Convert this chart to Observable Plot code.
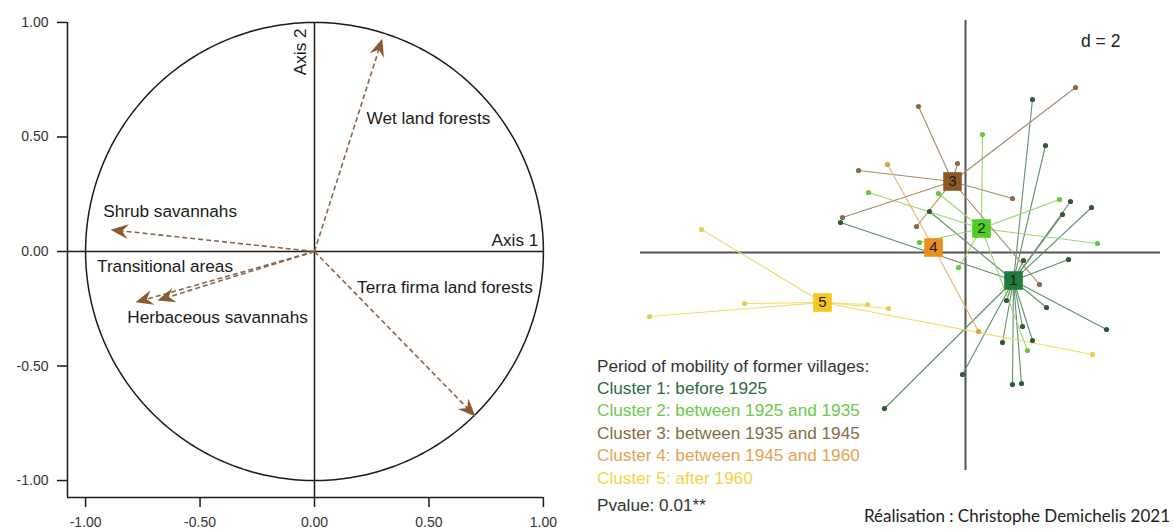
<!DOCTYPE html>
<html><head><meta charset="utf-8">
<script src="https://cdn.jsdelivr.net/npm/d3@7"></script>
<script src="https://cdn.jsdelivr.net/npm/@observablehq/plot@0.6"></script>
<style>
body{margin:0;background:#fff;width:1175px;height:531px;overflow:hidden;position:relative;font-family:"Liberation Sans",Arial,sans-serif;}
#left{position:absolute;left:0;top:0;}
#right{position:absolute;left:580px;top:0;}
.t{position:absolute;white-space:nowrap;font-size:17.2px;line-height:20px;}
#caption{position:absolute;right:5px;top:506px;font-family:Lato,"Open Sans",sans-serif;font-size:17px;line-height:20px;color:#222;white-space:nowrap;}
</style></head><body>
<div id="left"></div><div id="right"></div>
<div id="legend"></div>
<div class="t" id="dlabel" style="left:1081px;top:31px;color:#222;font-size:17.5px;">d = 2</div>
<div id="caption">Réalisation : Christophe Demichelis 2021</div>
<script>
// ---------- Left panel: correlation circle ----------
const tickVals = [-1, -0.5, 0, 0.5, 1];
const varNames = ["Wet land forests", "Shrub savannahs", "Transitional areas", "Herbaceous savannahs", "Terra firma land forests"];
const varAxis1 = [0.296, -0.891, -0.686, -0.782, 0.703];
const varAxis2 = [0.929, 0.095, -0.214, -0.222, -0.720];
// label anchor positions (left-aligned) in axis units
const labelAxis1 = [0.227, -0.923, -0.950, -0.818, 0.186];
const labelAxis2 = [0.581, 0.176, -0.066, -0.290, -0.156];

// ---------- Right panel: cluster plot ----------
const clusterIds = [1, 2, 3, 4, 5];
const centerX = [0.96, 0.32, -0.26, -0.64, -2.86];
const centerY = [-0.56, 0.48, 1.42, 0.10, -1.00];
const pointCluster = [
  1,1,1,1,1,1,1,1,1,1,1,1,1,1,1,1,1,1,1,
  2,2,2,2,2,2,2,2,
  3,3,3,3,3,3,3,3,
  4,4,
  5,5,5,5,5,5
];
const pointX = [
  1.34,1.60,2.10,-0.72,1.94,2.52,1.16,2.06,0.82,1.62,1.14,2.82,0.74,1.34,-0.06,0.94,1.12,-1.62,-2.50,
  0.34,-0.54,1.88,-0.92,2.64,-0.14,1.24,-1.94,
  2.20,-0.94,-0.16,0.94,-2.14,-2.46,-0.98,1.48,
  -1.56,0.26,
  -5.28,-4.42,-6.32,-1.96,-1.54,2.54
];
const pointY = [
  3.06,2.14,1.02,0.82,0.76,0.90,-0.16,-0.14,-0.96,-1.10,-1.48,-1.54,-1.80,-1.76,-2.44,-2.64,-2.62,-3.12,0.60,
  2.36,1.18,1.06,0.20,0.18,-0.30,-1.96,1.20,
  3.30,2.92,1.78,1.08,1.64,0.70,0.52,-0.64,
  1.76,-1.58,
  0.46,-1.02,-1.28,-1.04,-1.12,-2.04
];
const legendTitle = "Period of mobility of former villages:";
const legendLabels = ["Cluster 1: before 1925", "Cluster 2: between 1925 and 1935", "Cluster 3: between 1935 and 1945", "Cluster 4: between 1945 and 1960", "Cluster 5: after 1960"];
const pvalueText = "Pvalue: 0.01**";

// styles
const squareColors = ["#247a3a", "#4ccf22", "#8b5a24", "#e98f1e", "#f7c71e"];
const lineColors = ["#5f8f6a", "#98d66c", "#a68a6a", "#e8b070", "#f2da6e"];
const dotColors = ["#2f5a3a", "#64c83a", "#8b6a48", "#e0a048", "#e6cf4e"];
const legendColors = ["#2f6b3c", "#6ec84a", "#8b6a43", "#e3a154", "#f1d44a"];

const FONT = '"Liberation Sans", Arial, sans-serif';

const vars = varNames.map((n, i) => ({name: n, x: varAxis1[i], y: varAxis2[i], lx: labelAxis1[i], ly: labelAxis2[i]}));
// unit circle (geometric reference shape)
const circle = d3.range(0, 361, 1).map(a => ({x: Math.cos(a * Math.PI / 180), y: Math.sin(a * Math.PI / 180)}));

const xLo = -1.079, yLo = -1.074;
// notched arrowhead symbol: tip at origin, pointing up
const arrowHead = {
  draw(ctx, size) {
    const s = Math.sqrt(size);
    ctx.moveTo(0, 0);
    ctx.lineTo(s * 0.42, s * 1.0);
    ctx.lineTo(0, s * 0.66);
    ctx.lineTo(-s * 0.42, s * 1.0);
    ctx.closePath();
  }
};

const left = Plot.plot({
  width: 580, height: 531,
  marginLeft: 67, marginRight: 19, marginTop: 5, marginBottom: 34,
  x: {domain: [xLo, -xLo]},
  y: {domain: [yLo, -yLo]},
  style: {fontFamily: FONT, color: "#1a1a1a", background: "transparent", overflow: "visible"},
  marks: [
    Plot.axisX({ticks: tickVals, tickFormat: d => d.toFixed(2), tickSize: 10, tickPadding: 10, fontSize: 14, label: null, strokeWidth: 1.5, fill: "#333"}),
    Plot.axisY({ticks: tickVals, tickFormat: d => d.toFixed(2), tickSize: 10, tickPadding: 9, fontSize: 14, label: null, strokeWidth: 1.5, fill: "#333"}),
    Plot.ruleY([yLo], {x1: xLo, x2: 1, strokeWidth: 1.5}),
    Plot.ruleX([xLo], {y1: yLo, y2: 1, strokeWidth: 1.5}),
    Plot.ruleY([0], {x1: xLo, x2: 1, strokeWidth: 1.5}),
    Plot.ruleX([0], {y1: yLo, y2: 1, strokeWidth: 1.5}),
    Plot.line(circle, {x: "x", y: "y", strokeWidth: 1.5}),
    Plot.link(vars, {x1: 0, y1: 0, x2: d => d.x * 0.97, y2: d => d.y * 0.97, stroke: "#8a6548", strokeDasharray: "5,3", strokeWidth: 1.6}),
    Plot.dot(vars, {x: "x", y: "y", symbol: arrowHead, r: 10, fill: "#8b5a2e", stroke: "none", rotate: d => Math.atan2(d.x, d.y) * 180 / Math.PI}),
    Plot.text(vars, {x: "lx", y: "ly", text: "name", textAnchor: "start", fontSize: 17.2, fill: "#1a1a1a"}),
    Plot.text(["Axis 1"], {x: 0.978, y: 0.048, textAnchor: "end", fontSize: 17.2, fill: "#1a1a1a"}),
    Plot.text(["Axis 2"], {x: -0.060, y: 0.974, rotate: -90, textAnchor: "end", fontSize: 17.2, fill: "#1a1a1a"})
  ]
});
document.getElementById("left").appendChild(left);

const centers = clusterIds.map((c, i) => ({c: i, label: String(c), x: centerX[i], y: centerY[i]}));
const points = pointCluster.map((c, i) => ({c: c - 1, x: pointX[i], y: pointY[i]}));

const right = Plot.plot({
  width: 595, height: 531,
  marginLeft: 60, marginRight: 15, marginTop: 20, marginBottom: 61,
  x: {domain: [-6.5, 3.9], axis: null},
  y: {domain: [-4.36, 4.64], axis: null},
  color: {type: "identity"},
  style: {fontFamily: FONT, background: "transparent", overflow: "visible"},
  marks: [
    Plot.ruleX([0], {y1: -4.36, y2: 4.64, stroke: "#555", strokeWidth: 2}),
    Plot.ruleY([0], {x1: -6.5, x2: 3.9, stroke: "#555", strokeWidth: 2}),
    Plot.link(points, {x1: d => centerX[d.c], y1: d => centerY[d.c], x2: "x", y2: "y", stroke: d => lineColors[d.c], strokeWidth: 1.1}),
    Plot.dot(points, {x: "x", y: "y", r: 2.6, fill: d => dotColors[d.c], stroke: "none"}),
    Plot.dot(centers, {x: "x", y: "y", symbol: "square", r: 10.5, fill: d => squareColors[d.c], stroke: "none"}),
    Plot.text(centers, {x: "x", y: "y", text: "label", fontSize: 15, fill: "#1a1a1a"})
  ]
});
document.getElementById("right").appendChild(right);

// legend block
const leg = document.getElementById("legend");
const rows = [{t: legendTitle, c: "#333", top: 356}]
  .concat(legendLabels.map((t, i) => ({t, c: legendColors[i], top: 378 + i * 22.4})))
  .concat([{t: pvalueText, c: "#333", top: 495}]);
rows.forEach(r => {
  const d = document.createElement("div");
  d.className = "t";
  d.style.left = "597px";
  d.style.top = r.top + "px";
  d.style.color = r.c;
  d.textContent = r.t;
  leg.appendChild(d);
});
</script>
</body></html>
